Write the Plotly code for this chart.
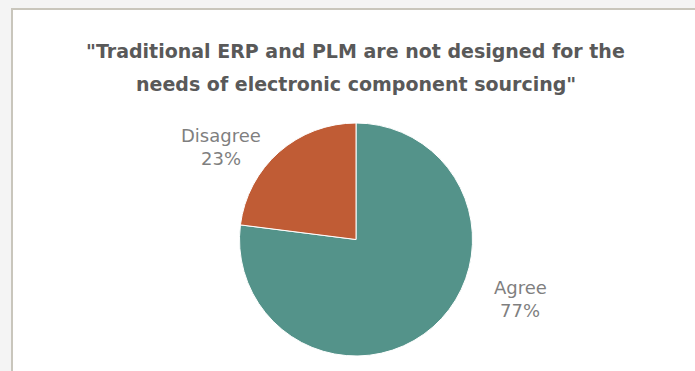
import plotly.graph_objects as go

# Survey responses
categories = ["Agree", "Disagree"]
shares = [77, 23]
colors = ["#54938A", "#C05C35"]
title_lines = ["\"Traditional ERP and PLM are not designed for the",
               "needs of electronic component sourcing\""]

W, H = 695, 371

fig = go.Figure(go.Pie(
    labels=categories,
    values=shares,
    sort=False,
    direction="clockwise",
    rotation=0,
    marker=dict(colors=colors, line=dict(color="white", width=1)),
    textinfo="none",
    hoverinfo="label+percent",
    domain=dict(x=[239 / W, 473 / W], y=[1 - 356 / H, 1 - 123 / H]),
    showlegend=False,
))

# Chart frame on the slightly grey page
shapes = [dict(type="rect", xref="paper", yref="paper",
               x0=12 / W, x1=1.05, y0=-0.05, y1=1 - 9 / H,
               fillcolor="white", line=dict(color="#C9C6BC", width=2),
               layer="below")]

annotations = []
for line, py in zip(title_lines, [51, 84]):
    annotations.append(dict(
        text=f"<b>{line}</b>", x=356 / W, y=1 - py / H,
        xref="paper", yref="paper", showarrow=False,
        font=dict(family="DejaVu Sans", size=19, color="#595959"),
        xanchor="center", yanchor="middle"))

label_pos = {"Disagree": (221, 136, 158), "Agree": (520, 287, 310)}
for cat, val in zip(categories, shares):
    px, py_name, py_pct = label_pos[cat]
    for txt, py in ((cat, py_name), (f"{val}%", py_pct)):
        annotations.append(dict(
            text=txt, x=px / W, y=1 - py / H,
            xref="paper", yref="paper", showarrow=False,
            font=dict(family="DejaVu Sans", size=18, color="#7F7F7F"),
            xanchor="center", yanchor="middle"))

fig.update_layout(
    width=W, height=H,
    margin=dict(l=0, r=0, t=0, b=0),
    paper_bgcolor="#F4F4F4",
    plot_bgcolor="white",
    shapes=shapes,
    annotations=annotations,
)

fig.write_html("out.html")
